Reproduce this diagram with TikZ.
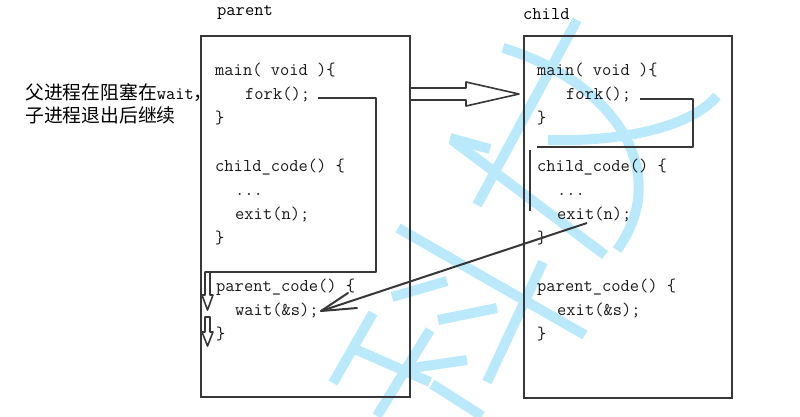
\documentclass[tikz,border=0pt]{standalone}
\usepackage{fontspec}
\newfontfamily\cjk{Noto Sans CJK SC}
\definecolor{wm}{RGB}{186,233,252}
\definecolor{ink}{RGB}{55,55,55}
\begin{document}
\begin{tikzpicture}[x=1pt,y=-1pt,
  code/.style={anchor=base west, inner sep=0pt, font=\fontsize{18}{20}\selectfont\ttfamily, text=black!90},
  lbl/.style={anchor=base west, inner sep=0pt, font=\fontsize{18}{20}\selectfont\ttfamily, text=black},
  boxline/.style={draw=ink, line width=2.4pt, rectangle, inner sep=0pt, anchor=north west},
  wmstroke/.style={draw=wm, line width=10pt},
  flow/.style={draw=ink, line width=2.2pt},
  hollow/.style={draw=ink, line width=1.6pt, fill=white, line join=round},
]
\useasboundingbox (0,0) rectangle (800,416);
% watermark
\draw[wmstroke] (577,20) -- (477,205);
\draw[wmstroke] (717,96) .. controls (690,128) and (620,142) .. (548,140);
\draw[wmstroke] (503,48) .. controls (610,80) and (675,170) .. (617,250);
\draw[wmstroke] (450,138) -- (490,149);
\draw[wmstroke] (452,140) -- (605,255);
\draw[wmstroke] (398,228) -- (585,335);
\draw[wmstroke] (543,262) -- (487,382);
\draw[wmstroke] (392,297) -- (447,281);
\draw[wmstroke] (438,320) -- (497,308);
\draw[wmstroke] (373,313) -- (333,383);
\draw[wmstroke] (357,350) -- (430,382);
\draw[wmstroke] (430,330) -- (377,416);
\draw[wmstroke] (412,368) -- (467,360);
\draw[wmstroke] (432,384) -- (482,416);
% boxes
\node[boxline, minimum width=209pt, minimum height=361pt] (parent) at (200,35) {};
\node[boxline, minimum width=208pt, minimum height=362pt] (child) at (523,35) {};
\node[lbl] (plab) at (217,15) {parent};
\node[lbl] (clab) at (523,19) {child};
% left note
\node[anchor=base west, inner sep=0pt, font=\fontsize{18.8}{24}\selectfont\cjk] (note1) at (25,99) {父进程在阻塞在{\fontsize{18}{24}\selectfont\ttfamily wait}，};
\node[anchor=base west, inner sep=0pt, font=\fontsize{18.8}{24}\selectfont\cjk] (note2) at (25,122) {子进程退出后继续};
% parent code
\node[code] (pm) at (215,75) {main( void )\{};
\node[code] (pf) at (245,99) {fork();};
\node[code] (pb1) at (215,123) {\}};
\node[code] (pc) at (215,171) {child\_code() \{};
\node[code] (pd) at (235,195) {...};
\node[code] (pe) at (235,219) {exit(n);};
\node[code] (pb2) at (215,243) {\}};
\node[code] (pp) at (216,291) {parent\_code() \{};
\node[code] (pw) at (235,315) {wait(\&s);};
\node[code] (pb3) at (216,339) {\}};
% child code
\node[code] (cm) at (537,75) {main( void )\{};
\node[code] (cf) at (566,99) {fork();};
\node[code] (cb1) at (537,123) {\}};
\node[code] (cc) at (537,171) {child\_code() \{};
\node[code] (cd) at (557,195) {...};
\node[code] (ce) at (557,219) {exit(n);};
\node[code] (cb2) at (537,243) {\}};
\node[code] (cp) at (537,291) {parent\_code() \{};
\node[code] (cx) at (557,315) {exit(\&s);};
\node[code] (cb3) at (537,339) {\}};
% flow in parent
\coordinate (pa1) at (318,98);
\coordinate (pa2) at (376,98);
\coordinate (pa3) at (376,272);
\coordinate (pa4) at (206,272);
\draw[flow, line join=round] (pa1) -- (pa2) -- (pa3) -- (pa4);
% flow in child
\coordinate (ca1) at (640,99);
\coordinate (ca2) at (693,99);
\coordinate (ca3) at (693,147);
\coordinate (ca4) at (537,147);
\draw[flow, line join=round] (ca1) -- (ca2) -- (ca3) -- (ca4);
\coordinate (cv1) at (530,150);
\coordinate (cv2) at (530,211);
\draw[flow] (cv1) -- (cv2);
% hollow fork arrow
\coordinate (fa) at (410,94);
\coordinate (fb) at (519,94);
\draw[hollow] (fa) ++(0,-6) -- ++(56,0) -- ++(0,-6) -- (fb) -- ++(-53,12) -- ++(0,-6) -- ++(-56,0) -- cycle;
% down arrows
\draw[hollow] (205,272) -- (205,295) -- (202,295) -- (207.5,310) -- (213,295) -- (210,295) -- (210,272) -- cycle;
\draw[hollow] (205,317) -- (205,332) -- (202,332) -- (207.5,346) -- (213,332) -- (210,332) -- (210,317) -- cycle;
% exit -> wait arrow
\coordinate (cexit) at (587,223);
\coordinate (pwait) at (321,311);
\draw[flow, line width=2pt] (cexit) -- (pwait);
\draw[flow, line width=2pt, line cap=round] (pwait) -- ++(27,-18);
\draw[flow, line width=2pt, line cap=round] (pwait) -- ++(36,-3);
\end{tikzpicture}
\end{document}
